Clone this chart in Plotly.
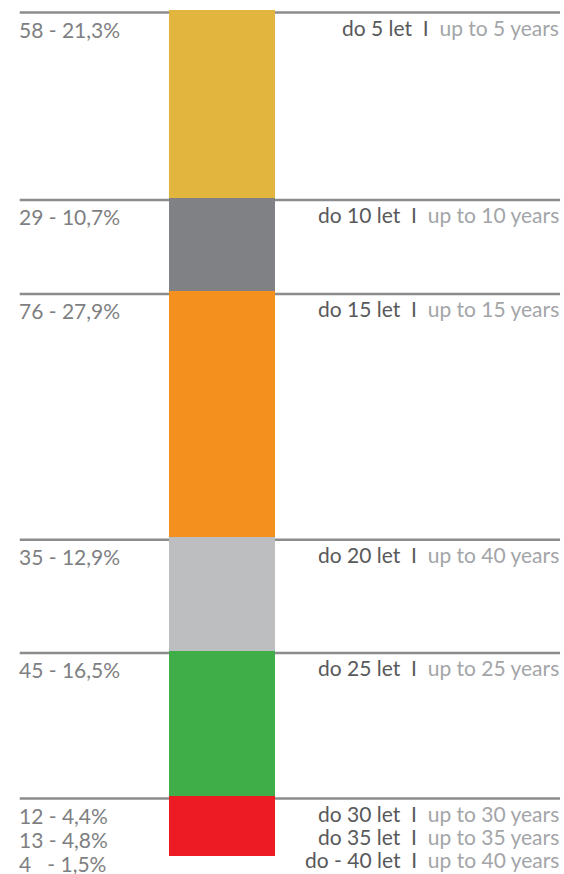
import plotly.graph_objects as go

# segments, top to bottom
counts = [58, 29, 76, 35, 45, 12, 13, 4]
shares = ['21,3', '10,7', '27,9', '12,9', '16,5', '4,4', '4,8', '1,5']
cz_labels = ['do 5 let', 'do 10 let', 'do 15 let', 'do 20 let', 'do 25 let', 'do 30 let', 'do 35 let', 'do - 40 let']
en_labels = ['up to 5 years', 'up to 10 years', 'up to 15 years', 'up to 40 years', 'up to 25 years',
             'up to 30 years', 'up to 35 years', 'up to 40 years']
colors = ['#E1B53E', '#808184', '#F4911E', '#BCBEC0', '#3FAE49', '#ED1C24', '#ED1C24', '#ED1C24']

FONT = 'Lato, "Open Sans", sans-serif'
LINE_COLOR = '#8C8C8F'
LEFT_COLOR = '#7E7F82'
DARK = '#58595B'
LIGHT = '#A3A5A8'

fig = go.Figure()
for n, c in zip(counts, colors):
    fig.add_trace(go.Bar(x=[0], y=[n], width=1, marker=dict(color=c, line=dict(width=0)),
                         hoverinfo='skip', showlegend=False))

start = 0
row = 0
for i, n in enumerate(counts):
    if i > 0 and colors[i] == colors[i - 1]:
        row += 1
    else:
        row = 0
        anchor = start
        fig.add_shape(type='line', xref='paper', x0=0.035, x1=0.993, yref='y', y0=anchor + 0.75, y1=anchor + 0.75,
                      line=dict(color=LINE_COLOR, width=2.5), layer='below')
    left = f'{n} - {shares[i]}%' if n >= 10 else f'{n}\u00a0\u00a0 - {shares[i]}%'
    fig.add_annotation(x=0.031, xref='paper', y=anchor, yref='y', xanchor='left', yanchor='middle',
                       yshift=-19 - 24 * row, text=left, showarrow=False,
                       font=dict(family=FONT, size=21, color=LEFT_COLOR))
    right = (f'<span style="color:{DARK}">{cz_labels[i]}\u00a0 I\u00a0 </span>'
             f'<span style="color:{LIGHT}">{en_labels[i]}</span>')
    fig.add_annotation(x=0.994, xref='paper', y=anchor, yref='y', xanchor='right', yanchor='middle',
                       yshift=-17 - 23 * row, text=right, showarrow=False,
                       font=dict(family=FONT, size=21, color=DARK))
    start += n

fig.update_layout(
    width=564, height=874,
    margin=dict(l=0, r=0, t=0, b=18),
    barmode='stack', bargap=0,
    plot_bgcolor='white', paper_bgcolor='white',
    xaxis=dict(range=[-2.094, 3.226], visible=False, fixedrange=True),
    yaxis=dict(range=[261.5, -3.09], visible=False, fixedrange=True),
)

# page body has a default 8px margin, drop it so the figure sits at 0,0
fig.write_html('out.html', config={'displayModeBar': False},
               post_script="document.body.style.margin='0';")
